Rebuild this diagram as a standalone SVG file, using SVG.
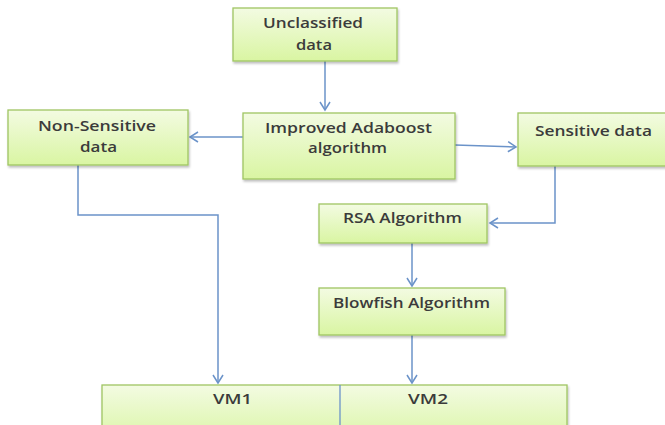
<svg xmlns="http://www.w3.org/2000/svg" width="665" height="425" viewBox="0 0 665 425">
<style>
.box{fill:url(#g);stroke:#9fc563;stroke-width:1.3;filter:url(#sh)}
.t{font-family:"Open Sans","Liberation Sans",sans-serif;font-size:14px;font-weight:600;fill:#3b3b3b}
.c{fill:none;stroke:#6b93c9;stroke-width:1.5}
</style>
<defs>
<linearGradient id="g" x1="0" y1="0" x2="0" y2="1">
<stop offset="0" stop-color="#f3fbe2"/>
<stop offset="1" stop-color="#d9f5a2"/>
</linearGradient>
<filter id="sh" x="-5%" y="-5%" width="115%" height="125%">
<feDropShadow dx="1" dy="2" stdDeviation="1.2" flood-color="#000" flood-opacity="0.25"/>
</filter>
<marker id="a" markerUnits="userSpaceOnUse" markerWidth="12" markerHeight="12" refX="10" refY="6" orient="auto">
<path d="M2,1 L10,6 L2,11" fill="none" stroke="#6b93c9" stroke-width="1.5"/>
</marker>
</defs>

<g id="connectors">
<path class="c" d="M325,61 V110" marker-end="url(#a)"/>
<path class="c" d="M243,137 H190" marker-end="url(#a)"/>
<path class="c" d="M455,145 L516,147" marker-end="url(#a)"/>
<path class="c" d="M555,166 V223 H490" marker-end="url(#a)"/>
<path class="c" d="M412,243 V286" marker-end="url(#a)"/>
<path class="c" d="M412,335 V383" marker-end="url(#a)"/>
<path class="c" d="M78,165 V215 H218 V383" marker-end="url(#a)"/>
</g>

<g id="unclassified">
<rect class="box" x="233" y="8" width="164" height="53"/>
<text class="t" x="263" y="28" textLength="100" lengthAdjust="spacingAndGlyphs">Unclassified</text>
<text class="t" x="296" y="50" textLength="36" lengthAdjust="spacingAndGlyphs">data</text>
</g>

<g id="non-sensitive">
<rect class="box" x="8" y="110" width="180" height="55"/>
<text class="t" x="38" y="131" textLength="118" lengthAdjust="spacingAndGlyphs">Non-Sensitive</text>
<text class="t" x="80" y="152" textLength="37" lengthAdjust="spacingAndGlyphs">data</text>
</g>

<g id="improved-adaboost">
<rect class="box" x="243" y="113" width="212" height="66"/>
<text class="t" x="265" y="133" textLength="167" lengthAdjust="spacingAndGlyphs">Improved Adaboost</text>
<text class="t" x="308" y="153" textLength="79" lengthAdjust="spacingAndGlyphs">algorithm</text>
</g>

<g id="sensitive">
<rect class="box" x="518" y="113" width="160" height="53"/>
<text class="t" x="535" y="136" textLength="117" lengthAdjust="spacingAndGlyphs">Sensitive data</text>
</g>

<g id="rsa">
<rect class="box" x="319" y="204" width="168" height="39"/>
<text class="t" x="343" y="223" textLength="119" lengthAdjust="spacingAndGlyphs">RSA Algorithm</text>
</g>

<g id="blowfish">
<rect class="box" x="319" y="288" width="186" height="47"/>
<text class="t" x="333" y="308" textLength="157" lengthAdjust="spacingAndGlyphs">Blowfish Algorithm</text>
</g>

<g id="vm">
<rect class="box" x="102" y="385" width="465" height="60"/>
<line x1="340" y1="385" x2="340" y2="425" stroke="#6b93c9" stroke-width="1.3"/>
<text class="t" x="213" y="404" textLength="39" lengthAdjust="spacingAndGlyphs">VM1</text>
<text class="t" x="408" y="404" textLength="40" lengthAdjust="spacingAndGlyphs">VM2</text>
</g>
</svg>
